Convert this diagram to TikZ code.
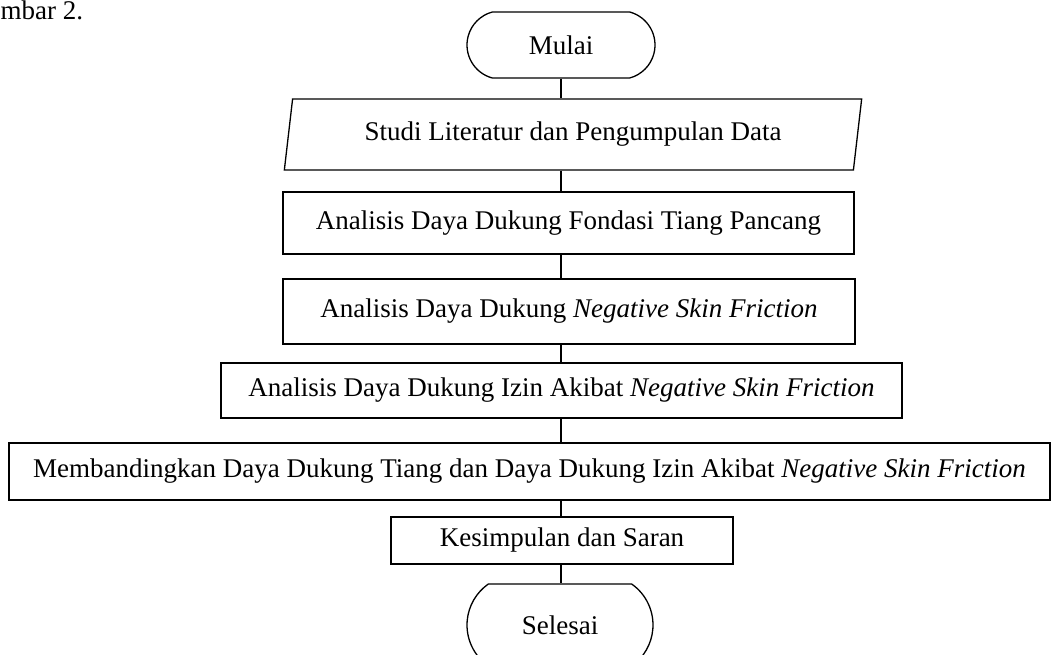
\documentclass[tikz,border=0pt]{standalone}
\usepackage{fontspec}
\setmainfont{Liberation Serif}
\usetikzlibrary{shapes.geometric,shapes.misc}

\begin{document}
\begin{tikzpicture}[x=1pt,y=-1pt,
	font=\fontsize{27}{31}\selectfont,
	every node/.style={line width=1.3pt, inner sep=0pt},
	box/.style={draw, rectangle},
	terminal/.style={draw, rounded rectangle},
	inout/.style={draw, trapezium, trapezium left angle=76, trapezium right angle=104, trapezium stretches=true},
	link/.style={line width=1.3pt}]

\def\width{1052}
\def\height{655}

\path [use as bounding box] (0,0) rectangle (\width,\height);

% CAPTION
\node (caption) [anchor=base west] at (0,20) {mbar 2.};

% STEPS
\node (mulai) [terminal, rounded rectangle arc length=150, minimum width=188, minimum height=66] at (561,45) {Mulai};
\node (studi) [inout, minimum width=580, minimum height=71] at (573,134.5) {Studi Literatur dan Pengumpulan Data};
\node (fondasi) [box, minimum width=571, minimum height=62] at (568.5,223) {Analisis Daya Dukung Fondasi Tiang Pancang};
\node (nsf) [box, minimum width=572, minimum height=65] at (569,311.5) {Analisis Daya Dukung \textit{Negative Skin Friction}};
\node (izin) [box, minimum width=681, minimum height=55] at (561.5,390.5) {Analisis Daya Dukung Izin Akibat \textit{Negative Skin Friction}};
\node (banding) [box, minimum width=1041, minimum height=57] at (529.5,471.5) {Membandingkan Daya Dukung Tiang dan Daya Dukung Izin Akibat \textit{Negative Skin Friction}};
\node (simpul) [box, minimum width=342, minimum height=47] at (562,540.5) {Kesimpulan dan Saran};
\node (selesai) [terminal, rounded rectangle arc length=110, minimum width=186, minimum height=82] at (560,625) {Selesai};

% LINKS
\foreach \a/\b in {mulai/studi, studi/fondasi, fondasi/nsf, nsf/izin, izin/banding, banding/simpul, simpul/selesai}
	\draw [link] (\a.south -| mulai) -- (\b.north -| mulai);

\end{tikzpicture}
\end{document}
